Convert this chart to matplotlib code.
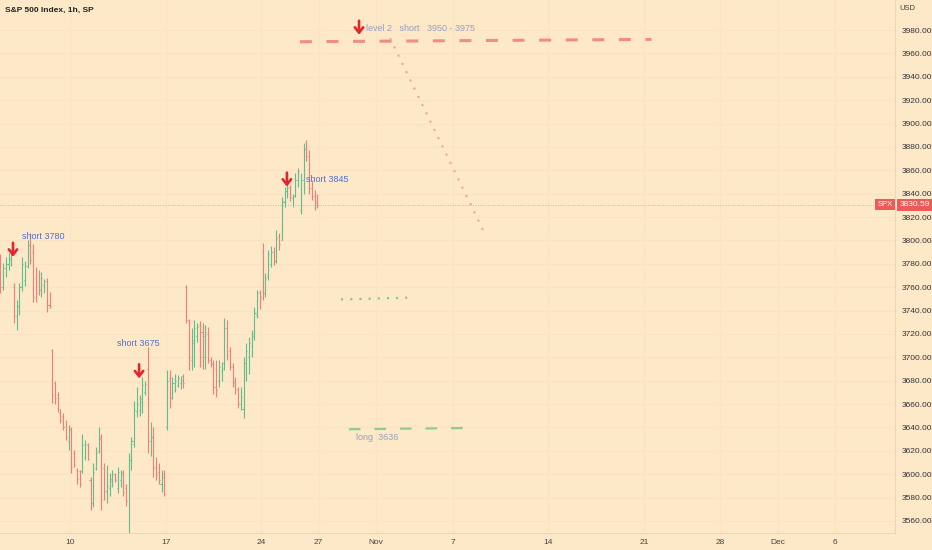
import numpy as np
import matplotlib

matplotlib.use("Agg")
import matplotlib.pyplot as plt
from matplotlib.transforms import blended_transform_factory

plt.rcParams["font.family"] = ["Liberation Sans", "DejaVu Sans"]

BG = "#fde8c8"
UP = "#5fbd8e"
DOWN = "#ec7f78"
GRID = "#fbe3c2"

# hourly sessions (7 bars a day, 9:30 .. 15:30)
sessions = ["2022-10-04", "2022-10-05", "2022-10-06", "2022-10-07", "2022-10-10",
            "2022-10-11", "2022-10-12", "2022-10-13", "2022-10-14", "2022-10-17",
            "2022-10-18", "2022-10-19", "2022-10-20", "2022-10-21", "2022-10-24",
            "2022-10-25", "2022-10-26"]
opens = [
    [3775, 3778, 3785, 3760, 3776, 3780, 3784],
    [3760, 3735, 3744, 3760, 3766, 3778, 3796],
    [3790, 3768, 3770, 3758, 3762, 3765, 3745],
    [3706, 3678, 3668, 3652, 3650, 3640, 3628],
    [3638, 3618, 3604, 3603, 3603, 3615, 3625],
    [3595, 3575, 3605, 3620, 3632, 3605, 3586],
    [3588, 3594, 3600, 3588, 3595, 3602, 3588],
    [3520, 3612, 3626, 3654, 3655, 3662, 3670],
    [3690, 3628, 3632, 3606, 3602, 3592, 3598],
    [3640, 3682, 3665, 3672, 3676, 3678, 3684],
    [3760, 3732, 3698, 3712, 3718, 3728, 3722],
    [3700, 3720, 3698, 3694, 3690, 3680, 3688],
    [3690, 3725, 3705, 3692, 3680, 3673, 3660],
    [3656, 3695, 3700, 3710, 3718, 3736, 3756],
    [3790, 3755, 3770, 3780, 3790, 3782, 3804],
    [3800, 3833, 3842, 3846, 3836, 3838, 3852],
    [3826, 3852, 3878, 3872, 3845, 3838, 3834],
]
highs = [
    [3782, 3790, 3788, 3781, 3786, 3789, 3792],
    [3764, 3749, 3764, 3786, 3782, 3800, 3806],
    [3797, 3777, 3775, 3773, 3767, 3768, 3756],
    [3707, 3680, 3670, 3656, 3652, 3646, 3642],
    [3640, 3621, 3605, 3604, 3634, 3629, 3627],
    [3598, 3610, 3623, 3640, 3634, 3610, 3608],
    [3601, 3604, 3601, 3606, 3604, 3604, 3592],
    [3618, 3632, 3663, 3675, 3668, 3683, 3680],
    [3709, 3645, 3640, 3615, 3610, 3604, 3604],
    [3689, 3689, 3683, 3686, 3685, 3684, 3686],
    [3762, 3733, 3725, 3732, 3729, 3731, 3729],
    [3728, 3726, 3700, 3698, 3698, 3698, 3696],
    [3734, 3732, 3709, 3695, 3683, 3675, 3675],
    [3700, 3712, 3717, 3723, 3743, 3758, 3758],
    [3798, 3772, 3792, 3795, 3794, 3809, 3806],
    [3837, 3846, 3848, 3847, 3840, 3858, 3862],
    [3858, 3883, 3886, 3877, 3852, 3843, 3840],
]
lows = [
    [3768, 3770, 3755, 3758, 3769, 3775, 3778],
    [3729, 3723, 3736, 3757, 3761, 3776, 3780],
    [3747, 3747, 3753, 3752, 3755, 3739, 3742],
    [3661, 3660, 3653, 3644, 3638, 3629, 3621],
    [3601, 3606, 3592, 3589, 3601, 3612, 3612],
    [3569, 3572, 3604, 3618, 3569, 3578, 3575],
    [3581, 3589, 3593, 3584, 3589, 3581, 3573],
    [3491, 3604, 3623, 3649, 3650, 3652, 3668],
    [3618, 3616, 3598, 3595, 3592, 3585, 3581],
    [3638, 3657, 3664, 3670, 3675, 3673, 3674],
    [3729, 3689, 3689, 3692, 3713, 3692, 3690],
    [3690, 3695, 3692, 3669, 3666, 3675, 3680],
    [3689, 3698, 3689, 3675, 3669, 3657, 3655],
    [3648, 3680, 3686, 3700, 3715, 3734, 3741],
    [3749, 3752, 3766, 3777, 3779, 3781, 3792],
    [3800, 3829, 3836, 3834, 3829, 3837, 3846],
    [3823, 3840, 3868, 3840, 3835, 3826, 3828],
]
closes = [
    [3778, 3785, 3760, 3776, 3780, 3784, 3789],
    [3735, 3744, 3760, 3780, 3778, 3796, 3783],
    [3752, 3755, 3758, 3768, 3765, 3745, 3744],
    [3668, 3665, 3656, 3646, 3640, 3632, 3639],
    [3606, 3608, 3596, 3592, 3625, 3626, 3613],
    [3575, 3602, 3618, 3630, 3578, 3586, 3590],
    [3596, 3600, 3595, 3602, 3600, 3585, 3577],
    [3612, 3628, 3655, 3660, 3664, 3676, 3677],
    [3628, 3632, 3605, 3600, 3595, 3600, 3583],
    [3680, 3665, 3678, 3680, 3682, 3681, 3678],
    [3732, 3700, 3715, 3725, 3726, 3700, 3718],
    [3722, 3698, 3694, 3675, 3672, 3692, 3695],
    [3725, 3702, 3692, 3678, 3672, 3660, 3666],
    [3695, 3705, 3712, 3720, 3738, 3755, 3752],
    [3755, 3768, 3788, 3790, 3782, 3802, 3797],
    [3834, 3842, 3845, 3837, 3838, 3852, 3859],
    [3852, 3878, 3872, 3845, 3838, 3832, 3830.59],
]
last_price = 3830.59

tick_dates = ["2022-10-10", "2022-10-17", "2022-10-24", "2022-10-27", "2022-11-01",
              "2022-11-07", "2022-11-14", "2022-11-21", "2022-11-28", "2022-12-01",
              "2022-12-06"]
tick_labels = ["10", "17", "24", "27", "Nov", "7", "14", "21", "28", "Dec", "6"]
price_ticks = list(range(3560, 4000, 20))

level2_short = 3970
mid_level = 3750
long_level = 3638


def day_index(dates):
    # trading-day axis, like the chart's: weekends and Thanksgiving squeezed out
    return np.busday_count("2022-10-10", dates, holidays=["2022-11-24"])


o = np.array(opens, float).ravel()
h = np.array(highs, float).ravel()
l = np.array(lows, float).ravel()
c = np.array(closes, float).ravel()
x = (day_index(sessions)[:, None] + (np.arange(7)[None, :] + 0.5) / 7).ravel()
col = np.where(c >= o, UP, DOWN)

fig = plt.figure(figsize=(9.32, 5.5), dpi=100, facecolor=BG)
ax = fig.add_axes([0, 17 / 550, 895 / 932, 533 / 550], facecolor=BG)
ax.set_xlim(-3.66, 43.13)
ax.set_ylim(3549.7, 4005.7)

ax.set_xticks(day_index(tick_dates))
ax.set_xticklabels(tick_labels)
ax.yaxis.tick_right()
ax.set_yticks(price_ticks)
ax.set_yticklabels([f"{v:.2f}" for v in price_ticks])
ax.tick_params(axis="x", length=0, pad=4, labelsize=6, labelcolor="#444444")
ax.tick_params(axis="y", length=0, pad=5, labelsize=6, labelcolor="#333333")
ax.grid(True, color=GRID, lw=0.8)
ax.set_axisbelow(True)
for side in ("top", "left"):
    ax.spines[side].set_visible(False)
for side in ("right", "bottom"):
    ax.spines[side].set_color("#ecd6b6")
    ax.spines[side].set_linewidth(0.8)

# OHLC bars
tick = 0.055
ax.vlines(x, l, h, colors=col, lw=0.8)
ax.hlines(o, x - tick, x, colors=col, lw=0.8)
ax.hlines(c, x, x + tick, colors=col, lw=0.8)

# last price line + labels
ax.plot([-3.66, 42.0], [last_price] * 2, color="#ee8f86", lw=0.6, ls=(0, (1, 2)))
tr = blended_transform_factory(ax.transAxes, ax.transData)
ax.text(0.9975, last_price, "SPX", transform=tr, ha="right", va="center", fontsize=5.5,
        color="white", bbox=dict(boxstyle="square,pad=0.3", fc="#ee5a5a", ec="none"))
ax.text(1.005, last_price, f"{last_price:.2f}", transform=tr, ha="left", va="center",
        fontsize=6, color="white", clip_on=False,
        bbox=dict(boxstyle="square,pad=0.3", fc="#ee5a5a", ec="none"))

# drawings
ax.plot([12.02, 30.4], [level2_short, level2_short + 2], color="#f08c85", lw=2.2,
        dashes=(3.9, 4.8), solid_capstyle="butt", dash_capstyle="butt")
ax.plot([16.73, 21.59], [3973, 3809], color="#f2a496", lw=1.5, dashes=(1, 3.4))
ax.plot([14.17, 17.98], [mid_level - 0.5, mid_level + 1.2], color="#7fc48c", lw=1.5,
        dashes=(1, 3.4))
ax.plot([14.58, 20.65], [long_level + 0.5, long_level + 1.5], color="#8fcc8c", lw=1.6,
        dashes=(5.2, 6.3), dash_capstyle="butt")

blue = "#4c6fd9"
ax.text(-2.51, 3803, "short 3780", color=blue, fontsize=6.5, va="center")
ax.text(2.46, 3712, "short 3675", color=blue, fontsize=6.5, va="center")
ax.text(12.34, 3852.5, "short 3845", color=blue, fontsize=6.5, va="center")
ax.text(15.47, 3981, "level 2   short   3950 - 3975", color="#97a0c4", fontsize=6.5,
        va="center")
ax.text(14.95, 3631, "long  3636", color="#97a0c4", fontsize=6.5, va="center")

arrows = [(-2.98, 3786), (3.61, 3682), (11.34, 3846), (15.11, 3976)]
for ax_t, tip in arrows:
    ax.annotate("", xy=(ax_t, tip), xytext=(ax_t, tip + 12),
                arrowprops=dict(arrowstyle="->,head_length=0.38,head_width=0.3",
                                color="#e3262e", lw=1.9, shrinkA=0, shrinkB=0))

ax.text(5 / 895, 1 - 10 / 533, "S&P 500 Index, 1h, SP", transform=ax.transAxes,
        fontsize=6, fontweight="bold", color="#222222", va="center")
fig.text(899 / 932, 1 - 8 / 550, "USD", fontsize=5.5, color="#444444", va="center")

fig.savefig("out.png", dpi=100, facecolor=BG)
